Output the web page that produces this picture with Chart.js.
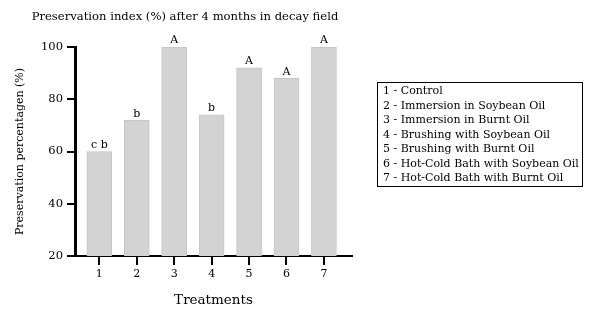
<!DOCTYPE html>
<html>
<head>
<meta charset="utf-8">
<script src="https://cdn.jsdelivr.net/npm/chart.js@4.4.0/dist/chart.umd.min.js"></script>
<style>
    body { margin: 0; background: #fff; }
    #wrap { position: relative; width: 595px; height: 317px; }
    #legendBox {
        position: absolute; left: 377px; top: 82px; width: 206px; height: 105px;
        border: 1px solid #000; box-sizing: border-box;
        font-family: "DejaVu Serif", "Liberation Serif", serif; font-size: 11px;
        line-height: 14.5px; padding: 1px 0 0 5px; color: #000; white-space: nowrap;
    }
</style>
</head>
<body>
<div id="wrap">
    <canvas id="chart" width="595" height="317"></canvas>
    <div id="legendBox"></div>
</div>
<script>
// Data
const treatments = [1, 2, 3, 4, 5, 6, 7];
const preservation = [60, 72, 100, 74, 92, 88, 100];
const groupLetters = ['c b', 'b', 'A', 'b', 'A', 'A', 'A'];
const treatmentNames = [
    'Control',
    'Immersion in Soybean Oil',
    'Immersion in Burnt Oil',
    'Brushing with Soybean Oil',
    'Brushing with Burnt Oil',
    'Hot-Cold Bath with Soybean Oil',
    'Hot-Cold Bath with Burnt Oil'
];
const yTicks = [20, 40, 60, 80, 100];
const chartTitle = 'Preservation index (%) after 4 months in decay field';

const serif = '"DejaVu Serif", "Liberation Serif", serif';

// Legend box
document.getElementById('legendBox').innerHTML = treatmentNames
    .map((name, i) => `<div>${treatments[i]} - ${name}</div>`).join('');

// Title, letters above bars, tick marks under the x axis
const extrasPlugin = {
    id: 'extras',
    afterDraw(chart) {
        const c = chart.ctx;
        const meta = chart.getDatasetMeta(0);
        const xs = chart.scales.x;
        c.save();
        c.fillStyle = '#000';
        c.textAlign = 'center';

        c.font = '11.6px ' + serif;
        c.textBaseline = 'middle';
        c.fillText(chartTitle, 185, 17);

        c.font = '11px ' + serif;
        c.textBaseline = 'bottom';
        meta.data.forEach((bar, i) => {
            c.fillText(groupLetters[i], bar.x, bar.y - 1);
        });

        // x tick marks as small filled rects
        treatments.forEach(t => {
            const px = Math.round(xs.getPixelForValue(t));
            c.fillRect(px - 1, xs.top, 2, 9);
        });
        c.restore();
    }
};

new Chart(document.getElementById('chart'), {
    type: 'bar',
    data: {
        datasets: [{
            data: treatments.map((t, i) => ({ x: t, y: preservation[i] })),
            backgroundColor: '#d3d3d3',
            borderColor: '#c4c4c4',
            borderWidth: 1,
            barThickness: 25
        }]
    },
    options: {
        responsive: false,
        animation: false,
        layout: { padding: { left: 0, right: 243, top: 47, bottom: 0 } },
        plugins: {
            legend: { display: false },
            tooltip: { enabled: false }
        },
        scales: {
            x: {
                type: 'linear',
                offset: false,
                min: 0.35,
                max: 7.75,
                afterBuildTicks: scale => { scale.ticks = treatments.map(v => ({ value: v })); },
                afterFit: scale => { scale.height = 61; },
                border: { color: '#000', width: 2 },
                grid: { display: false, tickLength: 8 },
                ticks: { color: '#000', font: { family: serif, size: 11 }, padding: 4 },
                title: {
                    display: true, text: 'Treatments', color: '#000',
                    font: { family: serif, size: 13.5 }, padding: { top: 0, bottom: 8 }
                }
            },
            y: {
                min: 20,
                max: 100,
                afterBuildTicks: scale => { scale.ticks = yTicks.map(v => ({ value: v })); },
                afterFit: scale => { scale.width = 75; },
                border: { color: '#000', width: 3 },
                grid: { drawOnChartArea: false, drawTicks: true, tickLength: 8, color: '#000', lineWidth: 2 },
                ticks: { color: '#000', font: { family: serif, size: 11.5 }, padding: 4 },
                title: {
                    display: true, text: 'Preservation percentagen (%)', color: '#000',
                    font: { family: serif, size: 11 }, padding: { top: 14, bottom: 0 }
                }
            }
        }
    },
    plugins: [extrasPlugin]
});
</script>
</body>
</html>
